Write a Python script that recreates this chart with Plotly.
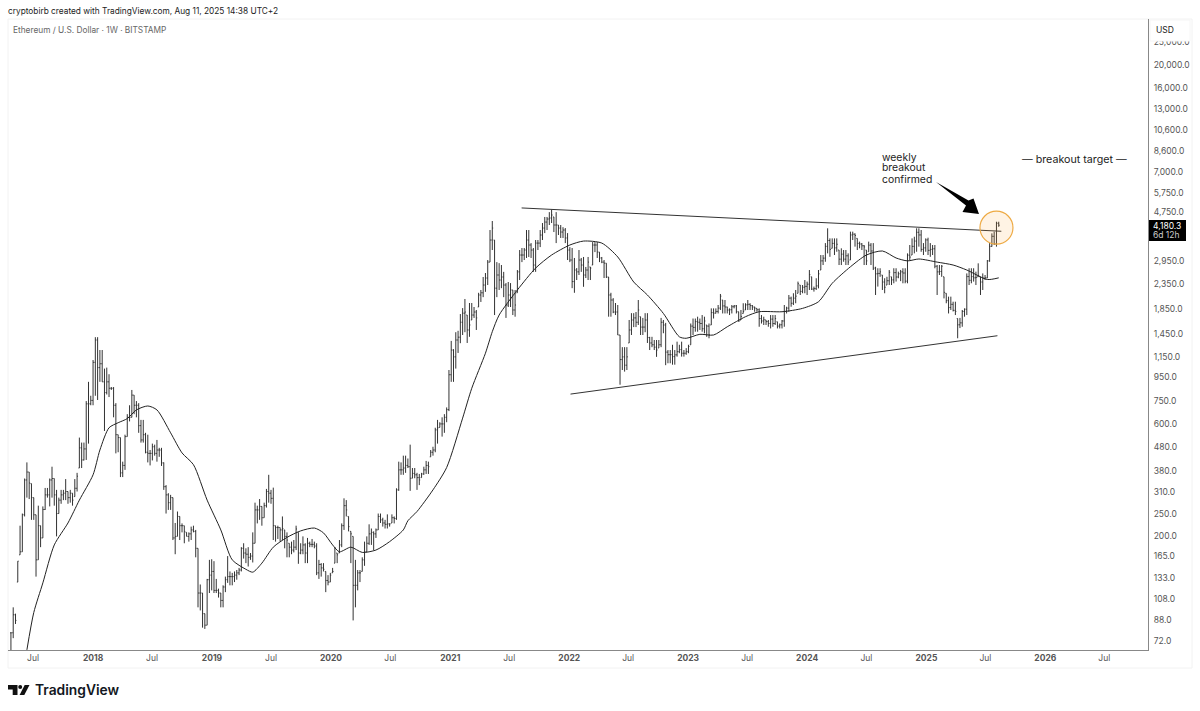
import datetime as dt
import plotly.graph_objects as go

START = dt.date(2017, 4, 24)

highs = [
78,100,94,157,222,250,352,412,375,335,
292,247,270,222,268,321,321,352,395,352,
315,292,315,315,350,310,315,305,350,372,
525,500,500,750,905,790,1120,1400,1400,1235,
1235,1030,1040,975,860,860,735,540,525,415,
540,660,720,836,795,750,735,624,624,550,
540,465,495,490,513,475,475,412,330,305,
300,292,228,255,243,227,222,208,208,220,
222,213,178,125,115,94,132,159,160,157,
132,120,115,124,135,165,142,140,142,144,
147,180,187,178,180,170,208,278,270,288,
268,278,318,365,315,322,222,222,218,243,
213,208,187,190,193,222,208,187,200,187,
197,190,195,190,187,159,154,154,142,137,
140,147,180,170,193,227,290,285,243,210,
200,159,144,144,163,190,200,225,216,210,
216,250,250,240,235,248,227,248,243,320,
415,412,440,440,428,490,390,390,372,368,
372,395,418,415,465,480,578,624,610,640,
660,705,1016,1350,1245,1470,1490,1755,1860,2033,
1738,1955,1955,1880,1826,2160,2220,2520,2620,2975,
3988,4355,3617,2915,2885,2833,2650,2375,2400,2375,
2220,2220,2698,3280,3345,3345,3988,3988,3510,3345,
3617,3617,3988,4270,4530,4530,4750,4860,4530,4750,
4188,4188,4100,4065,3870,3375,3345,3035,2750,3280,
3035,3065,2780,3065,2780,3545,3545,3545,3215,3065,
2975,2885,2520,2160,2050,1955,1917,1430,1270,1270,
1270,1656,1770,1770,1790,2013,1710,1690,1770,1770,
1405,1405,1362,1362,1362,1690,1656,1610,1235,1235,
1300,1235,1340,1300,1340,1235,1258,1300,1600,1680,
1680,1710,1680,1738,1710,1577,1600,1855,1855,1855,
1917,2135,2013,2013,1885,1855,1917,1917,1917,1795,
1826,1950,1950,2013,1950,1917,1885,1855,1855,1738,
1710,1656,1656,1738,1738,1738,1628,1600,1656,1917,
1885,2114,2080,2150,2220,2410,2330,2330,2447,2410,
2698,2525,2295,2490,2698,3124,3124,3510,4055,3675,
3675,3675,3675,3280,3335,3280,3280,3175,3925,3925,
3860,3675,3560,3510,3444,3280,3560,3510,3510,2785,
2745,2745,2570,2490,2525,2698,2525,2745,2745,2655,
2700,2745,2745,3175,3444,3675,3735,4055,4055,3988,
3510,3675,3700,3510,3444,3444,2833,2833,2833,2525,
2150,2080,2080,1980,1980,1680,1690,1826,1855,2610,
2745,2745,2745,2655,2880,2525,2610,2570,2975,3510,
3860,3925,4325,4325,
]

lows = [
62,74,85,128,167,172,243,292,288,235,
235,135,159,180,197,259,292,268,292,270,
200,250,275,285,285,275,278,270,295,310,
390,390,420,422,495,720,720,790,758,905,
905,560,800,780,836,640,450,455,357,357,
383,530,615,640,660,640,550,500,500,450,
412,400,420,440,415,435,398,315,250,259,
259,193,168,200,193,208,187,200,190,193,
208,163,100,97,82,81,84,115,118,115,
115,110,100,100,116,127,124,124,128,131,
137,142,161,154,149,159,155,187,227,235,
222,240,265,278,275,193,190,195,190,193,
178,163,163,168,171,175,153,168,168,154,
154,180,180,178,137,132,135,142,116,124,
128,140,154,154,170,180,213,243,210,154,
88,100,118,128,142,150,172,184,184,175,
197,213,228,220,216,216,220,228,227,235,
312,365,365,372,390,312,353,353,315,330,
355,365,368,368,435,440,455,495,580,530,
550,610,680,905,905,1030,1200,1320,1430,1470,
1323,1405,1656,1690,1502,1880,1975,2070,2180,2330,
2915,3280,1738,2070,2220,2260,2070,1690,1880,1880,
1738,1710,2160,2447,2915,2975,3035,3065,3035,2650,
2650,3280,3375,3617,3870,3988,4188,4270,3910,3510,
3798,3690,3690,3510,2975,2915,2260,2160,2447,2570,
2650,2290,2495,2447,2447,2833,3215,3035,2915,2885,
2495,2495,1710,1710,1770,1738,1430,880,1016,1000,
1016,1323,1430,1545,1545,1577,1430,1430,1470,1323,
1235,1270,1235,1155,1260,1270,1455,1065,1085,1085,
1070,1070,1158,1197,1158,1158,1178,1197,1300,1430,
1477,1477,1502,1477,1453,1405,1385,1577,1680,1765,
1765,1826,1765,1765,1765,1738,1765,1855,1765,1628,
1656,1765,1826,1826,1826,1826,1795,1795,1550,1600,
1577,1577,1550,1525,1550,1577,1525,1525,1525,1550,
1765,1795,1885,1917,1950,2150,2114,2150,2150,2114,
2220,2220,2185,2220,2255,2698,2833,2925,3175,3070,
3335,3124,3225,2833,2833,2925,2833,2833,2975,3617,
3390,3280,3335,3280,2833,2833,3225,2833,2698,2114,
2295,2525,2220,2150,2330,2330,2330,2370,2410,2490,
2420,2370,2370,2370,2975,3124,3175,3225,3390,3225,
3124,3225,3124,3070,3124,2745,2114,2570,2525,2045,
1950,1765,1826,1800,1738,1385,1530,1550,1710,1738,
2330,2370,2410,2330,2525,2114,2220,2447,2490,2925,
3390,3444,3390,4115,
]

closes = [
78,93,88,157,172,247,347,375,337,292,
247,159,222,197,260,300,300,347,352,300,
250,285,300,305,310,292,305,285,320,360,
475,422,470,730,730,755,1095,1362,1040,1080,
905,815,905,850,850,720,540,525,372,400,
530,640,640,795,720,720,590,513,540,455,
450,450,480,450,465,465,410,325,300,278,
292,197,200,243,222,222,210,200,205,213,
210,178,115,115,94,84,131,137,142,118,
118,115,107,122,131,135,135,135,137,140,
144,178,170,168,163,165,187,259,259,268,
240,270,310,305,290,222,218,218,213,216,
200,193,180,175,180,215,170,175,184,170,
187,185,185,182,140,152,147,145,130,128,
137,142,178,167,184,222,270,259,220,205,
124,124,140,140,159,172,187,205,208,205,
213,243,235,228,225,226,226,240,238,315,
383,383,390,400,395,353,370,365,355,347,
368,383,400,395,455,465,566,578,600,600,
640,690,970,1235,1155,1362,1400,1620,1770,1790,
1502,1577,1738,1790,1690,2114,2160,2330,2495,2915,
3617,4065,2260,2570,2447,2520,2330,1917,2114,2220,
1826,1917,2650,3124,3124,3280,3617,3444,3280,2833,
3510,3510,3798,4065,4310,4440,4485,4617,4188,4188,
4065,3910,3988,3690,3280,2975,2410,2698,2650,2975,
2833,2570,2698,2915,2750,3444,3444,3215,3035,2915,
2885,2520,2114,2013,1790,1790,1430,1125,1155,1065,
1155,1502,1656,1690,1620,1826,1545,1545,1656,1395,
1323,1300,1270,1235,1300,1620,1577,1210,1180,1180,
1158,1178,1215,1240,1197,1197,1215,1278,1560,1540,
1630,1620,1600,1520,1640,1560,1430,1780,1770,1800,
1860,2090,1900,1880,1825,1830,1885,1900,1795,1640,
1715,1800,1920,1930,1905,1880,1860,1830,1680,1640,
1660,1630,1600,1670,1600,1680,1560,1580,1640,1800,
1860,2050,1950,2050,2090,2360,2190,2280,2300,2350,
2580,2240,2250,2310,2600,2950,3030,3400,3600,3300,
3500,3350,3470,3000,3150,3000,3100,2920,3800,3830,
3780,3500,3480,3420,3380,2950,3440,3250,2750,2600,
2610,2650,2400,2280,2430,2640,2450,2630,2520,2600,
2650,2620,2420,3120,3060,3400,3580,3900,3800,3300,
3350,3620,3270,3300,3320,2800,2650,2660,2800,2170,
2000,1870,1930,1820,1800,1580,1610,1800,1840,2530,
2440,2530,2500,2510,2550,2400,2490,2500,2950,3400,
3750,3480,4260,4180,
]
assert len(highs) == len(lows) == len(closes) == 434, (len(highs), len(lows), len(closes))

ma_week = [7,10,14,19,25,30,36,39,43,47,51,55,60,64,70,75,80,86,92,97,103,106,110,115,121,127,133,137,141,144,
           149,154,160,166,172,174,178,185,191,198,202,208,211,214,222,230,237,245,251,259,266,273,279,286,293,296,
           302,308,314,322,328,338,347,354,360,368,375,382,388,393,398,406,413,419,428,433]
ma_values = [66,95,127,184,228,285,365,465,578,607,632,688,715,688,550,452,403,285,213,159,145,141,154,180,198,211,217,207,184,172,
             180,171,175,190,213,233,255,315,392,635,850,1197,1477,1738,2220,2750,3124,3444,3580,3510,3065,2400,2114,1765,1405,1385,
             1440,1430,1550,1710,1795,1795,1855,1980,2370,2785,3124,3250,3035,2950,3005,2915,2833,2698,2460,2500]

upper_dates = ["2021-08-08", "2025-08-19"]
upper_prices = [4948, 3940]
lower_dates = ["2022-01-05", "2025-08-07"]
lower_prices = [803, 1420]
circle_date = ["2025-08-04"]
circle_price = [4080]

y_ticks = [72,88,108,133,165,200,250,310,380,480,600,750,950,1150,1450,1850,2350,2950,4750,5750,7000,8600,10600,13000,16000,20000,25000]
x_tick_dates = ["2017-07-01","2018-01-01","2018-07-01","2019-01-01","2019-07-01","2020-01-01","2020-07-01","2021-01-01","2021-07-01",
                "2022-01-01","2022-07-01","2023-01-01","2023-07-01","2024-01-01","2024-07-01","2025-01-01","2025-07-01","2026-01-01","2026-07-01"]
x_tick_labels = ["Jul","<b>2018</b>","Jul","<b>2019</b>","Jul","<b>2020</b>","Jul","<b>2021</b>","Jul",
                 "<b>2022</b>","Jul","<b>2023</b>","Jul","<b>2024</b>","Jul","<b>2025</b>","Jul","<b>2026</b>","Jul"]

L, R, T, B = 8, 1148, 19, 650
def xp(px): return (px - L) / (R - L)
def yp(py): return (B - py) / (B - T)

dates = [START + dt.timedelta(days=7 * i) for i in range(len(closes))]
opens = [closes[0]] + [min(max(closes[i - 1], lows[i]), highs[i]) for i in range(1, len(closes))]
ma_dates = [START + dt.timedelta(days=7 * i) for i in ma_week]

fig = go.Figure()
fig.add_trace(go.Ohlc(x=dates, open=opens, high=highs, low=lows, close=closes, tickwidth=0.4,
                      increasing=dict(line=dict(color="#333333", width=1)),
                      decreasing=dict(line=dict(color="#333333", width=1)),
                      hoverinfo="skip", showlegend=False))
fig.add_trace(go.Scatter(x=ma_dates, y=ma_values, mode="lines",
                         line=dict(color="#222222", width=1, shape="spline", smoothing=0.7), showlegend=False))
for xs, ys in ((upper_dates, upper_prices), (lower_dates, lower_prices)):
    fig.add_trace(go.Scatter(x=xs, y=ys, mode="lines", line=dict(color="#333333", width=1), showlegend=False))
fig.add_trace(go.Scatter(x=circle_date, y=circle_price, mode="markers", showlegend=False,
                         marker=dict(size=33, color="rgba(255,165,50,0.13)", line=dict(color="#eeaa44", width=1.2))))

def poly(points):
    return "M" + " L".join(f"{xp(a):.5f},{yp(b):.5f}" for a, b in points) + " Z"

shapes = [
    dict(type="rect", xref="paper", yref="paper", x0=xp(8), x1=xp(1192), y0=yp(668), y1=yp(19),
         line=dict(color="#f2f2f2", width=1), layer="below"),
    dict(type="rect", xref="paper", yref="paper", x0=xp(1150), x1=xp(1190), y0=yp(41), y1=yp(20),
         fillcolor="white", line=dict(color="#f6f6f6", width=1), layer="above"),
    dict(type="rect", xref="paper", yref="paper", x0=xp(1149), x1=xp(1186), y0=yp(241), y1=yp(220),
         fillcolor="black", line=dict(width=0), layer="above"),
    dict(type="path", xref="paper", yref="paper", fillcolor="black", line=dict(width=0), layer="above",
         path=poly([(936, 182), (968.5, 200.5), (973.5, 198.5), (979, 214), (962.5, 212), (966, 205.5)])),
    dict(type="path", xref="paper", yref="paper", fillcolor="#111111", line=dict(width=0), layer="above",
         path=poly([(8, 685), (17.5, 685), (17.5, 695), (12.7, 695), (12.7, 689.5), (8, 689.5)])),
    dict(type="path", xref="paper", yref="paper", fillcolor="#111111", line=dict(width=0), layer="above",
         path=poly([(24.7, 685), (29.5, 685), (24.3, 695), (19.6, 695)])),
    dict(type="circle", xref="paper", yref="paper", fillcolor="#111111", line=dict(width=0), layer="above",
         x0=xp(18.2), x1=xp(22.2), y0=yp(689), y1=yp(685)),
]

def note(text, x, y, size, color="#222222", anchor="left", family="Inter", weight=None):
    font = dict(size=size, color=color, family=family)
    if weight:
        font["weight"] = weight
    return dict(text=text, xref="paper", yref="paper", x=xp(x), y=yp(y), xanchor=anchor, yanchor="middle",
                showarrow=False, font=font, borderpad=0)

annotations = [
    note("cryptobirb created with TradingView.com, Aug 11, 2025 14:38 UTC+2", 7, 11, 8.3, "#222222"),
    note("Ethereum / U.S. Dollar · 1W · BITSTAMP", 12, 30, 8.3, "#666666"),
    note("USD", 1155, 30, 8.5, "#222222"),
    note("4,180.3", 1152, 225.5, 8.5, "#ffffff"),
    note("6d 12h", 1152, 235, 8.5, "#cccccc"),
    note("weekly", 881, 157, 10.4, "#222222"),
    note("breakout", 881, 168, 10.4, "#222222"),
    note("confirmed", 881, 179, 10.4, "#222222"),
    note("— breakout target —", 1021, 159, 10.7, "#222222"),
    note("TradingView", 34, 690, 13.8, "#131722", weight=600),
]

fig.update_layout(
    width=1200, height=711, paper_bgcolor="white", plot_bgcolor="white",
    margin=dict(l=L, r=1200 - R, t=T, b=711 - B), showlegend=False, hovermode=False,
    shapes=shapes, annotations=annotations, font=dict(family="Inter"),
    xaxis=dict(type="date", range=["2017-04-15", "2026-11-12"], rangeslider=dict(visible=False),
               tickmode="array", tickvals=x_tick_dates, ticktext=x_tick_labels, showgrid=False, zeroline=False,
               showline=True, linecolor="#888888", linewidth=1, ticks="", tickfont=dict(size=8.5, color="#555555")),
    yaxis=dict(type="log", range=[1.819, 4.496], side="right", tickmode="array", tickvals=y_ticks,
               ticktext=[f"{v:,.1f}" for v in y_ticks], showgrid=False, zeroline=False, showline=True,
               linecolor="#888888", linewidth=1, ticks="", ticklabelstandoff=3, tickfont=dict(size=8.5, color="#555555")),
)
fig.write_html("out.html", config=dict(displayModeBar=False),
               post_script="document.body.style.margin='0';document.documentElement.style.overflow='hidden';")
